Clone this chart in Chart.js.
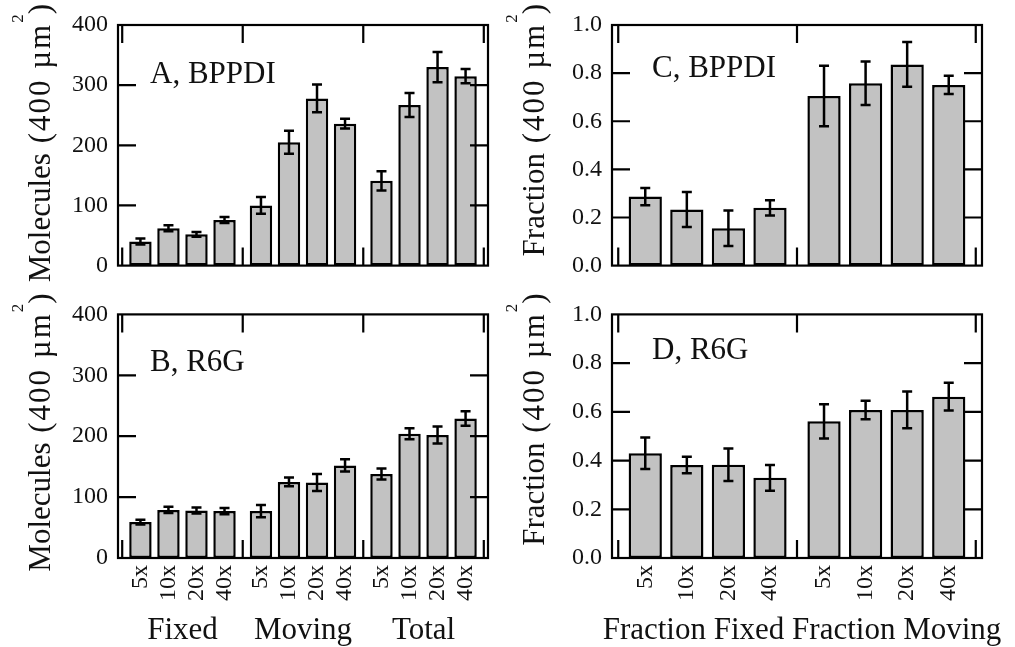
<!DOCTYPE html>
<html>
<head>
<meta charset="utf-8">
<title>BPPDI and R6G molecules per 400 µm²</title>
<script src="https://cdn.jsdelivr.net/npm/chart.js@4.4.1/dist/chart.umd.min.js"></script>
<style>
  body { margin: 0; background: #fff; }
  #wrap { position: relative; width: 1015px; height: 647px; overflow: hidden; }
  canvas { position: absolute; }
</style>
</head>
<body>
<div id="wrap">
  <canvas id="chartA" width="510" height="290" style="left:0;top:0"></canvas>
  <canvas id="chartC" width="510" height="290" style="left:494px;top:0"></canvas>
  <canvas id="chartB" width="510" height="357" style="left:0;top:290px"></canvas>
  <canvas id="chartD" width="510" height="357" style="left:494px;top:290px"></canvas>
</div>
<script>
const magnifications = ['5x', '10x', '20x', '40x'];
const countGroups = ['Fixed', 'Moving', 'Total'];
const fractionGroups = ['Fraction Fixed', 'Fraction Moving'];

// molecule counts per 400 um^2: Fixed, Moving, Total, each at 5x/10x/20x/40x
const bppdiCounts = [40, 62, 52, 76, 100, 205, 278, 236, 141, 267, 330, 315];
const bppdiCountErr = [5, 5, 4, 5, 14, 19, 23, 8, 16, 20, 25, 12];
const r6gCounts = [59, 79, 78, 77, 77, 125, 124, 152, 138, 204, 202, 229];
const r6gCountErr = [4, 5, 5, 5, 10, 7, 14, 10, 9, 9, 14, 12];

// fraction fixed / fraction moving at 5x/10x/20x/40x
const bppdiFractions = [0.287, 0.233, 0.155, 0.240, 0.705, 0.758, 0.836, 0.751];
const bppdiFractionErr = [0.036, 0.073, 0.074, 0.032, 0.126, 0.090, 0.093, 0.038];
const r6gFractions = [0.430, 0.382, 0.383, 0.329, 0.561, 0.608, 0.608, 0.662];
const r6gFractionErr = [0.065, 0.034, 0.067, 0.053, 0.070, 0.038, 0.075, 0.057];

const countTicks = [0, 100, 200, 300, 400];
const fractionTicks = [0, 0.2, 0.4, 0.6, 0.8, 1.0];

const SERIF = "'Liberation Serif', 'Times New Roman', serif";
Chart.defaults.font.family = SERIF;
Chart.defaults.color = '#111';

const GROUP_STEP = 4.3;   // x distance between the first bars of two groups
const barX = i => Math.floor(i / 4) * GROUP_STEP + (i % 4);

// draws text pieces along a rotated baseline so that they end at (0,0)
function drawPieces(ctx, pieces) {
  let total = 0;
  pieces.forEach(p => {
    ctx.font = p.size + 'px ' + SERIF;
    p.w = [...p.text].reduce((s, ch) => s + ctx.measureText(ch).width + (p.spacing || 0), 0);
    total += p.w;
  });
  let x = -total;
  pieces.forEach(p => {
    ctx.font = p.size + 'px ' + SERIF;
    [...p.text].forEach(ch => {
      ctx.fillText(ch, x, -(p.rise || 0));
      x += ctx.measureText(ch).width + (p.spacing || 0);
    });
  });
}

const panelDecor = {
  id: 'panelDecor',
  afterDatasetsDraw(chart, args, o) {
    const ctx = chart.ctx;
    const y = chart.scales.y;
    const bars = chart.getDatasetMeta(0).data;
    ctx.save();
    ctx.strokeStyle = '#000';
    ctx.lineWidth = 2.5;
    bars.forEach((bar, i) => {
      const v = o.values[i], e = o.errors[i];
      const yHi = y.getPixelForValue(v + e), yLo = y.getPixelForValue(v - e);
      ctx.beginPath();
      ctx.moveTo(bar.x, yHi); ctx.lineTo(bar.x, yLo);
      ctx.moveTo(bar.x - 5, yHi); ctx.lineTo(bar.x + 5, yHi);
      ctx.moveTo(bar.x - 5, yLo); ctx.lineTo(bar.x + 5, yLo);
      ctx.stroke();
    });
    ctx.restore();
  },
  afterDraw(chart, args, o) {
    const ctx = chart.ctx;
    const a = chart.chartArea;
    const xs = chart.scales.x, ys = chart.scales.y;
    ctx.save();
    ctx.strokeStyle = '#000';
    ctx.lineWidth = 2.2;
    ctx.strokeRect(a.left, a.top, a.right - a.left, a.bottom - a.top);

    // inward tick marks on all four sides
    const len = 18;
    ctx.beginPath();
    o.yTicks.slice(1, -1).forEach(v => {
      const p = ys.getPixelForValue(v);
      ctx.moveTo(a.left, p); ctx.lineTo(a.left + len, p);
      ctx.moveTo(a.right, p); ctx.lineTo(a.right - len, p);
    });
    o.frameTicks.forEach(v => {
      const p = xs.getPixelForValue(v);
      ctx.moveTo(p, a.top); ctx.lineTo(p, a.top + len);
      ctx.moveTo(p, a.bottom); ctx.lineTo(p, a.bottom - len);
    });
    ctx.stroke();

    ctx.fillStyle = '#111';
    ctx.textBaseline = 'alphabetic';

    // panel tag
    ctx.font = '31px ' + SERIF;
    ctx.textAlign = 'left';
    ctx.fillText(o.tag, a.left + o.tagPos[0], a.top + o.tagPos[1]);

    // y axis title with raised exponent
    ctx.save();
    ctx.translate(a.left - 68, a.top - 21);
    ctx.rotate(-Math.PI / 2);
    drawPieces(ctx, [
      { text: o.yTitle, size: 31 },
      { text: ' (400 µm', size: 31, spacing: 2 },
      { text: '2', size: 17, rise: 27 },
      { text: ')', size: 31 }
    ]);
    ctx.restore();

    // group captions under the tick labels
    if (o.groupLabels) {
      ctx.font = '31px ' + SERIF;
      ctx.textAlign = 'center';
      const base = a.bottom + 81;
      if (o.joinGroups) {
        ctx.fillText(o.groupLabels.join(' '), (a.left + a.right) / 2 + 5, base);
      } else {
        o.groupLabels.forEach((g, k) => {
          const mid = (xs.getPixelForValue(barX(k * 4)) + xs.getPixelForValue(barX(k * 4 + 3))) / 2;
          ctx.fillText(g, mid, base);
        });
      }
    }
    ctx.restore();
  }
};

function makePanel(id, cfg) {
  const n = cfg.values.length;
  const xs = cfg.values.map((v, i) => barX(i));
  const frameTicks = [];
  for (let g = 0; g <= n / 4; g++) frameTicks.push(g * GROUP_STEP - 0.65);

  return new Chart(document.getElementById(id), {
    type: 'bar',
    data: {
      datasets: [{
        data: cfg.values.map((v, i) => ({ x: xs[i], y: v })),
        backgroundColor: '#c2c2c2',
        borderColor: '#000',
        borderWidth: 2.5,
        borderSkipped: false,
        barPercentage: 0.8,
        categoryPercentage: 1
      }]
    },
    options: {
      responsive: false,
      animation: false,
      devicePixelRatio: 1,
      layout: { padding: { left: 0, right: 22, top: cfg.top, bottom: cfg.showX ? 0 : 18 } },
      plugins: {
        legend: { display: false },
        tooltip: { enabled: false },
        panelDecor: {
          values: cfg.values,
          errors: cfg.errors,
          yTicks: cfg.yTicks,
          frameTicks: frameTicks,
          tag: cfg.tag,
          tagPos: cfg.tagPos,
          yTitle: cfg.yTitle,
          groupLabels: cfg.showX ? cfg.groups : null,
          joinGroups: cfg.joinGroups
        }
      },
      scales: {
        x: {
          type: 'linear',
          min: -0.8,
          max: xs[n - 1] + 0.8,
          offset: false,
          bounds: 'data',
          display: cfg.showX,
          grid: { display: false, drawTicks: false, offset: false },
          border: { display: false },
          afterBuildTicks: s => { s.ticks = xs.map(v => ({ value: v })); },
          afterFit: s => { if (cfg.showX) s.height = 89; },
          ticks: {
            autoSkip: false,
            minRotation: 90,
            maxRotation: 90,
            padding: 7,
            color: '#111',
            font: { family: SERIF, size: 24 },
            callback: (v, i) => magnifications[i % 4]
          }
        },
        y: {
          min: 0,
          max: cfg.yTicks[cfg.yTicks.length - 1],
          grid: { display: false, drawTicks: false },
          border: { display: false },
          afterBuildTicks: s => { s.ticks = cfg.yTicks.map(v => ({ value: v })); },
          afterFit: s => { s.width = 118; },
          ticks: {
            autoSkip: false,
            padding: 10,
            color: '#111',
            font: { family: SERIF, size: 24 },
            callback: cfg.fmt
          }
        }
      }
    },
    plugins: [panelDecor]
  });
}

makePanel('chartA', {
  values: bppdiCounts, errors: bppdiCountErr, yTicks: countTicks, fmt: v => String(v),
  tag: 'A, BPPDI', tagPos: [32, 58], yTitle: 'Molecules', top: 25, showX: false, groups: countGroups
});
makePanel('chartB', {
  values: r6gCounts, errors: r6gCountErr, yTicks: countTicks, fmt: v => String(v),
  tag: 'B, R6G', tagPos: [32, 57], yTitle: 'Molecules', top: 23, showX: true, groups: countGroups
});
makePanel('chartC', {
  values: bppdiFractions, errors: bppdiFractionErr, yTicks: fractionTicks, fmt: v => v.toFixed(1),
  tag: 'C, BPPDI', tagPos: [40, 52], yTitle: 'Fraction', top: 25, showX: false, groups: fractionGroups
});
makePanel('chartD', {
  values: r6gFractions, errors: r6gFractionErr, yTicks: fractionTicks, fmt: v => v.toFixed(1),
  tag: 'D, R6G', tagPos: [40, 45], yTitle: 'Fraction', top: 23, showX: true, groups: fractionGroups,
  joinGroups: true
});
</script>
</body>
</html>
